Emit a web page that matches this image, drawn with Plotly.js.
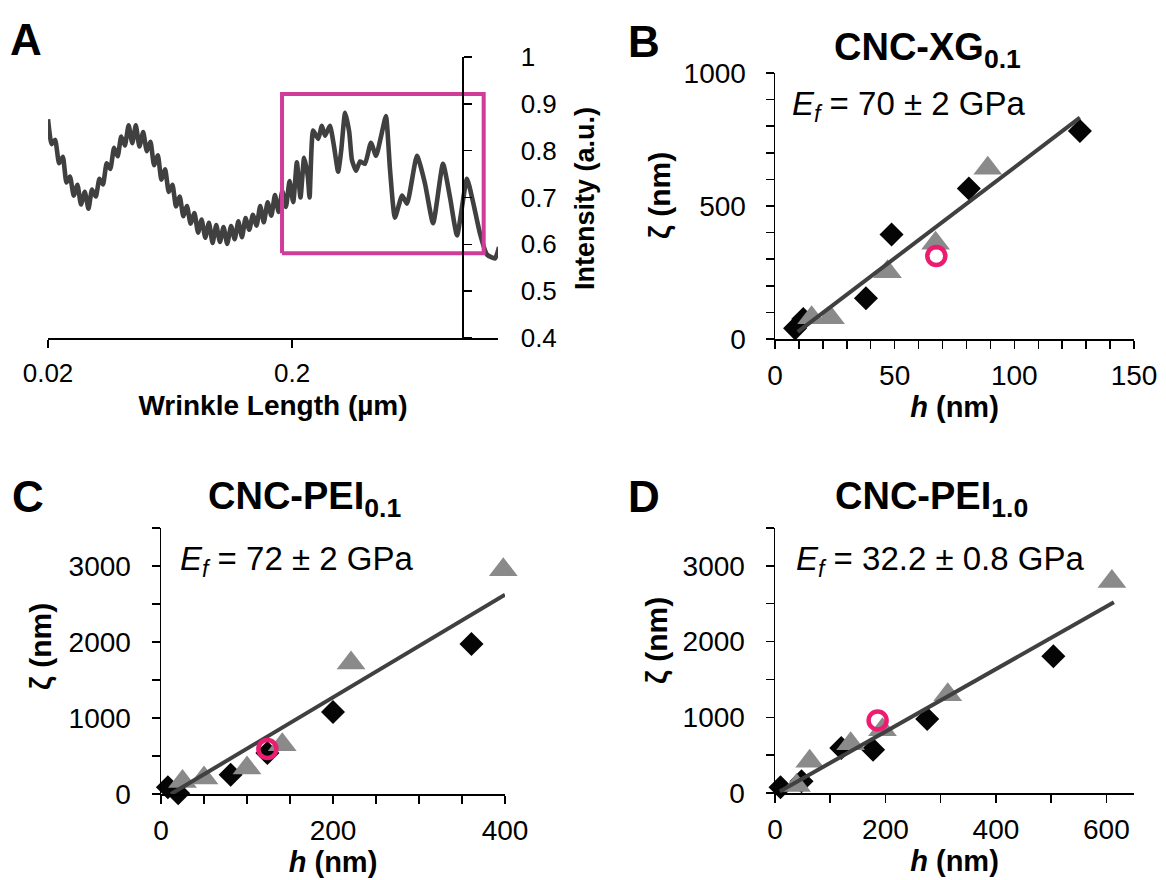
<!DOCTYPE html>
<html><head><meta charset="utf-8">
<script src="https://cdn.plot.ly/plotly-3.0.1.min.js"></script>
<style>html,body{margin:0;padding:0;background:#fff;}#chart{width:1166px;height:880px;}</style>
</head><body><div id="chart"></div>
<script>
// ---------- Panel A : intensity spectrum ----------
const wrinkleLength = [
0.0200,0.0207,0.0214,0.0222,0.0230,0.0238,0.0246,0.0255,0.0264,0.0273,
0.0283,0.0293,0.0303,0.0314,0.0325,0.0336,0.0348,0.0360,0.0373,0.0386,
0.0399,0.0413,0.0428,0.0443,0.0458,0.0474,0.0491,0.0508,0.0526,0.0544,
0.0564,0.0583,0.0604,0.0625,0.0647,0.0669,0.0693,0.0717,0.0742,0.0768,
0.0796,0.0824,0.0852,0.0882,0.0913,0.0945,0.0978,0.1013,0.1048,0.1085,
0.1125,0.1164,0.1205,0.1247,0.1290,0.1336,0.1382,0.1431,0.1481,0.1532,
0.1589,0.1645,0.1702,0.1762,0.1824,0.1888,0.1954,0.2022,0.2093,0.2166,
0.2242,0.2321,0.2360,
0.244,0.256,0.265,0.273,0.286,0.297,0.309,0.318,0.330,0.343,0.352,0.366,0.380,0.398,0.421,0.442,0.463,0.485,0.504,0.528,0.565,0.592,0.650,0.701,0.757,0.831,0.888,0.949,1.042,1.104,1.178,1.259,1.358,1.410];
const intensity = [
0.867,0.814,0.823,0.773,0.787,0.732,0.745,0.704,0.727,0.685,
0.712,0.676,0.717,0.702,0.740,0.728,0.773,0.761,0.806,0.788,
0.830,0.811,0.854,0.816,0.854,0.809,0.840,0.799,0.819,0.769,
0.790,0.738,0.760,0.712,0.727,0.681,0.702,0.660,0.682,0.644,
0.667,0.625,0.653,0.614,0.646,0.603,0.641,0.605,0.637,0.601,
0.639,0.611,0.649,0.615,0.656,0.631,0.663,0.640,0.682,0.647,
0.690,0.661,0.705,0.669,0.714,0.680,0.735,0.690,0.775,0.700,
0.785,0.745,0.700,
0.843,0.825,0.853,0.832,0.853,0.810,0.755,0.800,0.881,0.840,0.780,0.757,0.777,0.772,0.817,0.789,0.830,0.874,0.760,0.657,0.704,0.687,0.789,0.730,0.645,0.772,0.700,0.619,0.740,0.690,0.623,0.578,0.570,0.594];
const boxLength = [0.182, 1.22, 1.22, 0.182, 0.182];
const boxIntensity = [0.581, 0.581, 0.921, 0.921, 0.581];
const tickA_x = [0.02, 0.2];
const tickA_xText = ['0.02', '0.2'];

// ---------- Panel B : CNC-XG0.1 ----------
const hB_diamond = [8.4, 11.8, 38, 48.7, 81, 127.4];
const zB_diamond = [40, 75, 153, 393, 566, 782];
const hB_triangle = [15.3, 23.2, 47, 67.1, 88.9];
const zB_triangle = [80, 80, 253, 360, 642];
const hB_circle = [67.4];
const zB_circle = [312];
const hB_fit = [9.5, 127.4];
const zB_fit = [27, 832];

// ---------- Panel C : CNC-PEI0.1 ----------
const hC_diamond = [8, 20, 81, 123.7, 200, 361];
const zC_diamond = [90, 10, 254, 539, 1079, 1974];
const hC_triangle = [25, 50, 100, 141, 221, 398];
const zC_triangle = [166, 210, 342, 649, 1724, 2951];
const hC_circle = [123.7];
const zC_circle = [592];
const hC_fit = [11.6, 400];
const zC_fit = [0, 2622];

// ---------- Panel D : CNC-PEI1.0 ----------
const hD_diamond = [10, 48, 120, 177.6, 275.6, 504];
const zD_diamond = [75, 155, 594, 572, 977, 1805];
const hD_triangle = [39, 62.8, 137, 194.6, 312.8, 610];
const zD_triangle = [100, 418, 651, 836, 1298, 2795];
const hD_circle = [185.8];
const zD_circle = [959];
const hD_fit = [8.7, 613.6];
const zD_fit = [21, 2518];

const panelTitles = ['CNC-XG<sub>0.1</sub>', 'CNC-PEI<sub>0.1</sub>', 'CNC-PEI<sub>1.0</sub>'];
const modulusText = ['<i>E</i><sub><i>f</i></sub> = 70 ± 2 GPa', '<i>E</i><sub><i>f</i></sub> = 72 ± 2 GPa', '<i>E</i><sub><i>f</i></sub> = 32.2 ± 0.8 GPa'];

// ---------- styles ----------
const W = 1166, H = 880;
const px = v => v / W;
const py = v => (H - v) / H;
const FONT = 'Liberation Sans, Arial, sans-serif';
const DARK = '#404040', GRAY = '#8a8a8a', PINK = '#ec1c70', MAGENTA = '#d03c9a';

function panelTraces(xa, ya, hd, zd, ht, zt, hc, zc, hf, zf) {
  return [
    {x: hd, y: zd, xaxis: xa, yaxis: ya, type: 'scatter', mode: 'markers', cliponaxis: false,
     marker: {symbol: 'diamond', size: 18.5, color: '#050505'}, hoverinfo: 'x+y'},
    {x: ht, y: zt, xaxis: xa, yaxis: ya, type: 'scatter', mode: 'markers', cliponaxis: false,
     marker: {symbol: 'triangle-up', size: 25, color: GRAY}, hoverinfo: 'x+y'},
    {x: hf, y: zf, xaxis: xa, yaxis: ya, type: 'scatter', mode: 'lines', cliponaxis: false,
     line: {color: DARK, width: 4}, hoverinfo: 'skip'},
    {x: hc, y: zc, xaxis: xa, yaxis: ya, type: 'scatter', mode: 'markers', cliponaxis: false,
     marker: {symbol: 'circle-open', size: 18, color: PINK, line: {color: PINK, width: 4.5}}, hoverinfo: 'x+y'}
  ];
}

const traces = [
  {x: wrinkleLength, y: intensity, type: 'scatter', mode: 'lines', xaxis: 'x', yaxis: 'y', cliponaxis: false,
   line: {color: DARK, width: 4.6, shape: 'spline', smoothing: 0.5}, hoverinfo: 'x+y'},
  {x: boxLength, y: boxIntensity, type: 'scatter', mode: 'lines', xaxis: 'x', yaxis: 'y', cliponaxis: false,
   line: {color: MAGENTA, width: 4}, hoverinfo: 'skip'},
  ...panelTraces('x2', 'y2', hB_diamond, zB_diamond, hB_triangle, zB_triangle, hB_circle, zB_circle, hB_fit, zB_fit),
  ...panelTraces('x3', 'y3', hC_diamond, zC_diamond, hC_triangle, zC_triangle, hC_circle, zC_circle, hC_fit, zC_fit),
  ...panelTraces('x4', 'y4', hD_diamond, zD_diamond, hD_triangle, zD_triangle, hD_circle, zD_circle, hD_fit, zD_fit)
];

const base = {showline: true, linecolor: '#000', linewidth: 1.5, ticks: 'outside', tickcolor: '#000',
  tickwidth: 1.5, ticklen: 8, showgrid: false, zeroline: false, fixedrange: true,
  tickfont: {size: 28, color: '#000', family: FONT}};
const minor = d => ({dtick: d, ticks: 'outside', ticklen: 8, tickcolor: '#000', tickwidth: 1.5, showgrid: false});
const xTitle = (t, s) => ({text: t, font: {size: 29, color: '#000', family: FONT}, standoff: s});

const layout = {
  width: W, height: H, margin: {l: 0, r: 0, t: 0, b: 0},
  paper_bgcolor: '#fff', plot_bgcolor: 'rgba(0,0,0,0)', showlegend: false,
  font: {family: FONT, color: '#000', size: 16},
  // Panel A
  xaxis: Object.assign({}, base, {type: 'log', domain: [px(48), px(498)], anchor: 'y',
    range: [Math.log10(0.02), 0.145], tickvals: tickA_x, ticktext: tickA_xText,
    tickfont: {size: 26, color: '#000', family: FONT}, ticklabelstandoff: 3,
    title: {text: '<b>Wrinkle Length (µm)</b>', font: {size: 28, color: '#000', family: FONT}, standoff: 8}}),
  yaxis: Object.assign({}, base, {domain: [py(338), py(57)], range: [0.4, 1.0], dtick: 0.1,
    anchor: 'free', position: px(462), side: 'right', ticklabelstandoff: 44,
    tickfont: {size: 26, color: '#000', family: FONT}}),
  // Panel B
  xaxis2: Object.assign({}, base, {domain: [px(775), px(1134)], anchor: 'y2', range: [0, 150], dtick: 50,
    minor: minor(10), ticklabelstandoff: 3, title: xTitle('<b><i>h</i> (nm)</b>', 2)}),
  yaxis2: Object.assign({}, base, {domain: [py(339), py(73)], anchor: 'x2', range: [0, 1000], dtick: 500,
    minor: minor(100), ticklabelstandoff: 14}),
  // Panel C
  xaxis3: Object.assign({}, base, {domain: [px(161), px(505)], anchor: 'y3', range: [0, 400], dtick: 200,
    minor: minor(50), ticklabelstandoff: 3, title: xTitle('<b><i>h</i> (nm)</b>', 0)}),
  yaxis3: Object.assign({}, base, {domain: [py(794), py(528)], anchor: 'x3', range: [0, 3500], dtick: 1000,
    tickvals: [0, 1000, 2000, 3000], minor: minor(500), ticklabelstandoff: 15}),
  // Panel D
  xaxis4: Object.assign({}, base, {domain: [px(775), px(1134)], anchor: 'y4', range: [0, 650], dtick: 200,
    minor: minor(100), ticklabelstandoff: 3, title: xTitle('<b><i>h</i> (nm)</b>', 0)}),
  yaxis4: Object.assign({}, base, {domain: [py(793), py(528)], anchor: 'x4', range: [0, 3500], dtick: 1000,
    tickvals: [0, 1000, 2000, 3000], minor: minor(500), ticklabelstandoff: 15}),
  annotations: [
    {text: '<b>A</b>', x: px(26), y: py(40)},
    {text: '<b>B</b>', x: px(644), y: py(41)},
    {text: '<b>C</b>', x: px(28), y: py(497)},
    {text: '<b>D</b>', x: px(644), y: py(497)}
  ].map(a => Object.assign(a, {xref: 'paper', yref: 'paper', showarrow: false, xanchor: 'center', yanchor: 'middle',
      font: {size: 44, color: '#000', family: FONT}})).concat([
    {text: '<b>' + panelTitles[0] + '</b>', x: px(927), y: py(50)},
    {text: '<b>' + panelTitles[1] + '</b>', x: px(304), y: py(499)},
    {text: '<b>' + panelTitles[2] + '</b>', x: px(931), y: py(499)}
  ].map(a => Object.assign(a, {xref: 'paper', yref: 'paper', showarrow: false, xanchor: 'center', yanchor: 'middle',
      font: {size: 38, color: '#000', family: FONT}}))).concat([
    {text: modulusText[0], x: px(790), y: py(106)},
    {text: modulusText[1], x: px(178), y: py(561)},
    {text: modulusText[2], x: px(794), y: py(561)}
  ].map(a => Object.assign(a, {xref: 'paper', yref: 'paper', showarrow: false, xanchor: 'left', yanchor: 'middle',
      font: {size: 33, color: '#000', family: FONT}}))).concat([
    {text: '<b>Intensity (a.u.)</b>', x: px(585), y: py(199), font: {size: 27, color: '#000', family: FONT}},
    {text: '<b>ζ (nm)</b>', x: px(659), y: py(196)},
    {text: '<b>ζ (nm)</b>', x: px(40), y: py(647)},
    {text: '<b>ζ (nm)</b>', x: px(656), y: py(641)}
  ].map(a => Object.assign({font: {size: 30, color: '#000', family: FONT}}, a, {xref: 'paper', yref: 'paper',
      showarrow: false, textangle: -90, xanchor: 'center', yanchor: 'middle'})))
};

Plotly.newPlot('chart', traces, layout, {staticPlot: true, displayModeBar: false});
</script>
</body></html>
